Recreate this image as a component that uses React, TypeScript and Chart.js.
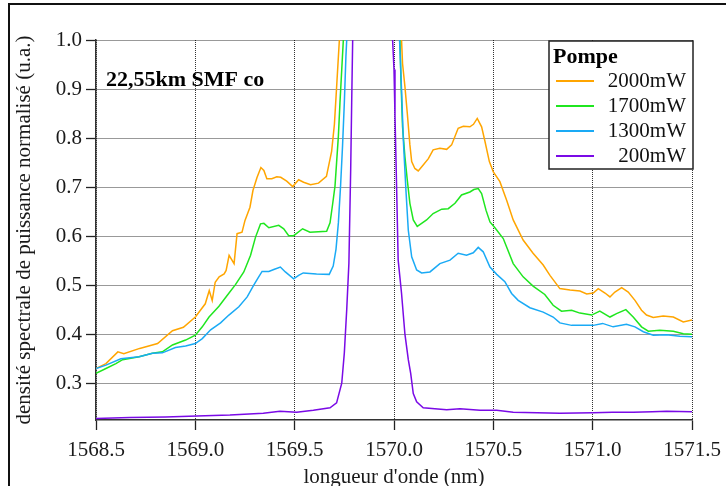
import React, { useEffect, useRef } from 'react';
import { Chart, registerables } from 'chart.js';

Chart.register(...registerables);

// ---------- data ----------
const seriesLabels = ['2000mW', '1700mW', '1300mW', '200mW'];
const seriesColors = ['#FFA500', '#1FE61F', '#1AAAF5', '#7A0AE6'];
const xTicks = [1568.5, 1569.0, 1569.5, 1570.0, 1570.5, 1571.0, 1571.5];
const yTicks = [0.3, 0.4, 0.5, 0.6, 0.7, 0.8, 0.9, 1.0];
const xTitle = "longueur d'onde (nm)";
const yTitle = 'densité spectrale de puissance normalisé (u.a.)';
const annotationText = '22,55km SMF co';
const legendTitle = 'Pompe';

const wl2000 = [1568.5, 1568.55, 1568.61, 1568.64, 1568.72, 1568.81, 1568.885, 1568.94, 1569.0, 1569.05, 1569.07, 1569.085, 1569.1, 1569.12, 1569.145, 1569.155, 1569.17, 1569.195, 1569.21, 1569.235, 1569.25, 1569.275, 1569.29, 1569.31, 1569.33, 1569.345, 1569.36, 1569.385, 1569.41, 1569.43, 1569.46, 1569.49, 1569.52, 1569.545, 1569.58, 1569.62, 1569.66, 1569.686, 1569.7, 1569.711, 1569.725, 1569.75, 1569.88, 1570.02, 1570.038, 1570.043, 1570.055, 1570.067, 1570.08, 1570.089, 1570.105, 1570.122, 1570.147, 1570.173, 1570.197, 1570.231, 1570.265, 1570.29, 1570.323, 1570.349, 1570.382, 1570.4, 1570.419, 1570.441, 1570.458, 1570.48, 1570.5, 1570.533, 1570.567, 1570.6, 1570.65, 1570.7, 1570.751, 1570.785, 1570.835, 1570.886, 1570.936, 1570.97, 1571.003, 1571.028, 1571.062, 1571.087, 1571.112, 1571.146, 1571.179, 1571.213, 1571.246, 1571.271, 1571.305, 1571.355, 1571.406, 1571.456, 1571.5];
const p2000 = [0.33, 0.34, 0.364, 0.36, 0.371, 0.381, 0.407, 0.414, 0.435, 0.462, 0.489, 0.469, 0.506, 0.517, 0.523, 0.53, 0.561, 0.544, 0.605, 0.608, 0.632, 0.659, 0.693, 0.719, 0.74, 0.734, 0.717, 0.717, 0.721, 0.72, 0.712, 0.701, 0.715, 0.71, 0.705, 0.708, 0.722, 0.773, 0.828, 0.903, 1.0, 1.3, 1.6, 1.2, 1.0, 0.952, 0.905, 0.85, 0.786, 0.752, 0.738, 0.733, 0.745, 0.758, 0.776, 0.779, 0.777, 0.786, 0.82, 0.824, 0.823, 0.828, 0.84, 0.823, 0.793, 0.752, 0.731, 0.711, 0.673, 0.633, 0.592, 0.565, 0.541, 0.52, 0.493, 0.49, 0.488, 0.482, 0.484, 0.493, 0.484, 0.476, 0.486, 0.495, 0.486, 0.469, 0.449, 0.439, 0.434, 0.437, 0.435, 0.425, 0.429];

const wl1700 = [1568.5, 1568.55, 1568.6, 1568.634, 1568.717, 1568.784, 1568.834, 1568.885, 1568.951, 1569.0, 1569.035, 1569.069, 1569.119, 1569.16, 1569.202, 1569.244, 1569.278, 1569.303, 1569.328, 1569.345, 1569.37, 1569.42, 1569.445, 1569.47, 1569.495, 1569.54, 1569.577, 1569.661, 1569.678, 1569.691, 1569.703, 1569.711, 1569.72, 1569.728, 1569.737, 1569.745, 1569.77, 1569.88, 1570.01, 1570.03, 1570.035, 1570.043, 1570.055, 1570.067, 1570.08, 1570.097, 1570.117, 1570.139, 1570.164, 1570.197, 1570.24, 1570.273, 1570.307, 1570.34, 1570.382, 1570.402, 1570.424, 1570.441, 1570.463, 1570.483, 1570.508, 1570.55, 1570.6, 1570.65, 1570.7, 1570.759, 1570.801, 1570.843, 1570.894, 1570.936, 1570.995, 1571.036, 1571.087, 1571.12, 1571.167, 1571.204, 1571.246, 1571.28, 1571.338, 1571.406, 1571.456, 1571.5];
const p1700 = [0.32, 0.33, 0.34, 0.348, 0.354, 0.361, 0.364, 0.378, 0.388, 0.398, 0.415, 0.435, 0.457, 0.479, 0.501, 0.527, 0.561, 0.598, 0.625, 0.626, 0.617, 0.622, 0.615, 0.601, 0.601, 0.615, 0.608, 0.61, 0.627, 0.665, 0.702, 0.75, 0.804, 0.872, 0.94, 1.0, 1.3, 1.7, 1.25, 1.0, 0.918, 0.823, 0.762, 0.714, 0.667, 0.633, 0.62, 0.626, 0.633, 0.646, 0.655, 0.656, 0.667, 0.684, 0.69, 0.695, 0.697, 0.687, 0.653, 0.629, 0.617, 0.595, 0.544, 0.517, 0.498, 0.481, 0.459, 0.447, 0.449, 0.443, 0.439, 0.447, 0.435, 0.442, 0.45, 0.435, 0.415, 0.406, 0.408, 0.406, 0.401, 0.4];

const wl1300 = [1568.5, 1568.55, 1568.625, 1568.717, 1568.784, 1568.834, 1568.9, 1568.951, 1569.0, 1569.035, 1569.077, 1569.127, 1569.169, 1569.219, 1569.261, 1569.294, 1569.319, 1569.336, 1569.37, 1569.395, 1569.428, 1569.453, 1569.495, 1569.52, 1569.543, 1569.61, 1569.674, 1569.694, 1569.708, 1569.72, 1569.731, 1569.741, 1569.75, 1569.758, 1569.762, 1569.79, 1569.9, 1570.01, 1570.028, 1570.038, 1570.047, 1570.06, 1570.072, 1570.089, 1570.114, 1570.139, 1570.181, 1570.231, 1570.282, 1570.323, 1570.365, 1570.399, 1570.424, 1570.449, 1570.483, 1570.517, 1570.558, 1570.592, 1570.625, 1570.684, 1570.751, 1570.801, 1570.835, 1570.894, 1570.953, 1571.003, 1571.05, 1571.103, 1571.17, 1571.213, 1571.255, 1571.305, 1571.372, 1571.439, 1571.5];
const p1300 = [0.33, 0.337, 0.35, 0.354, 0.361, 0.362, 0.373, 0.376, 0.381, 0.391, 0.409, 0.423, 0.439, 0.456, 0.476, 0.5, 0.517, 0.528, 0.528, 0.532, 0.537, 0.527, 0.513, 0.52, 0.525, 0.523, 0.522, 0.539, 0.573, 0.627, 0.702, 0.784, 0.872, 0.967, 1.0, 1.3, 1.7, 1.3, 1.0, 0.898, 0.796, 0.694, 0.612, 0.558, 0.531, 0.525, 0.527, 0.544, 0.551, 0.565, 0.561, 0.566, 0.577, 0.568, 0.537, 0.522, 0.507, 0.483, 0.469, 0.454, 0.445, 0.435, 0.423, 0.418, 0.418, 0.418, 0.422, 0.415, 0.42, 0.415, 0.405, 0.398, 0.399, 0.396, 0.395];

const wl200 = [1568.5, 1568.671, 1568.85, 1569.007, 1569.174, 1569.342, 1569.426, 1569.51, 1569.594, 1569.678, 1569.711, 1569.737, 1569.75, 1569.762, 1569.773, 1569.782, 1569.787, 1569.792, 1569.82, 1569.9, 1569.97, 1569.993, 1570.0, 1570.005, 1570.013, 1570.021, 1570.038, 1570.055, 1570.072, 1570.084, 1570.097, 1570.114, 1570.147, 1570.265, 1570.332, 1570.433, 1570.517, 1570.6, 1570.72, 1570.835, 1571.003, 1571.1, 1571.204, 1571.3, 1571.372, 1571.5];
const p200 = [0.228, 0.23, 0.231, 0.233, 0.235, 0.239, 0.243, 0.241, 0.245, 0.25, 0.26, 0.3, 0.362, 0.45, 0.545, 0.736, 0.872, 1.0, 1.4, 1.9, 1.4, 1.0, 0.94, 0.845, 0.702, 0.551, 0.483, 0.4, 0.348, 0.32, 0.279, 0.262, 0.25, 0.246, 0.248, 0.245, 0.245, 0.241, 0.24, 0.239, 0.24, 0.241, 0.241, 0.242, 0.243, 0.242];

const seriesX = [wl2000, wl1700, wl1300, wl200];
const seriesY = [p2000, p1700, p1300, p200];

const FONT = "'Liberation Serif', 'Times New Roman', serif";

const overlayPlugin = {
  id: 'overlay',
  afterDraw(chart: any) {
    const { ctx, chartArea } = chart;
    const xs = chart.scales.x;
    const ys = chart.scales.y;
    ctx.save();
    // outer frame
    ctx.strokeStyle = '#111';
    ctx.lineWidth = 2;
    ctx.strokeRect(9, 4, 1000, 1000);

    // annotation
    ctx.fillStyle = '#000';
    ctx.font = `bold 22px ${FONT}`;
    ctx.textAlign = 'left';
    ctx.textBaseline = 'middle';
    ctx.fillText(annotationText, xs.getPixelForValue(1568.55), ys.getPixelForValue(0.918));

    // legend box
    const bx = chartArea.right - 143;
    const by = chartArea.top + 1;
    const bw = 144;
    const bh = 128;
    ctx.fillStyle = '#fff';
    ctx.fillRect(bx, by, bw, bh);
    ctx.strokeStyle = '#222';
    ctx.lineWidth = 1.5;
    ctx.strokeRect(bx, by, bw, bh);
    ctx.fillStyle = '#000';
    ctx.font = `bold 22px ${FONT}`;
    ctx.textAlign = 'left';
    ctx.fillText(legendTitle, bx + 4, by + 16);
    ctx.font = `21px ${FONT}`;
    ctx.textAlign = 'right';
    chart.data.datasets.forEach((ds: any, i: number) => {
      const cy = by + 40 + i * 25;
      ctx.strokeStyle = ds.borderColor;
      ctx.lineWidth = 2;
      ctx.beginPath();
      ctx.moveTo(bx + 7, cy);
      ctx.lineTo(bx + 45, cy);
      ctx.stroke();
      ctx.fillStyle = '#111';
      ctx.fillText(ds.label, bx + bw - 7, cy);
    });
    ctx.restore();
  },
};

export default function App() {
  const ref = useRef<HTMLCanvasElement | null>(null);
  useEffect(() => {
    if (!ref.current) return;
    const datasets = seriesLabels.map((label, i) => ({
      label,
      data: seriesX[i].map((x, j) => ({ x, y: seriesY[i][j] })),
      borderColor: seriesColors[i],
      backgroundColor: seriesColors[i],
      borderWidth: 1.5,
      pointRadius: 0,
      tension: 0,
      fill: false,
      order: 4 - i,
    }));
    const chart = new Chart(ref.current, {
      type: 'line',
      data: { datasets },
      plugins: [overlayPlugin],
      options: {
        animation: false,
        responsive: false,
        events: [],
        layout: { padding: { left: 0, top: 40, right: 34, bottom: 0 } },
        plugins: { legend: { display: false }, tooltip: { enabled: false } },
        scales: {
          x: {
            type: 'linear',
            min: 1568.5,
            max: 1571.5,
            afterBuildTicks: (s: any) => {
              s.ticks = xTicks.map((v) => ({ value: v }));
            },
            afterFit: (s: any) => {
              s.height = 66;
              s.paddingLeft = 0;
              s.paddingRight = 0;
            },
            ticks: {
              callback: (v: any) => Number(v).toFixed(1),
              font: { family: FONT, size: 21 },
              color: '#1a1a1a',
              padding: 8,
              maxRotation: 0,
              autoSkip: false,
            },
            grid: {
              color: 'rgba(0,0,0,0.8)',
              lineWidth: 1,
              tickLength: 10,
              tickColor: '#222',
              tickWidth: 1.3,
              tickBorderDash: [],
            },
            border: { display: true, color: '#333', width: 1.5, dash: [1, 1] },
            title: {
              display: true,
              text: xTitle,
              font: { family: FONT, size: 21 },
              color: '#1a1a1a',
              padding: { top: 0, bottom: -4 },
            },
          },
          y: {
            type: 'linear',
            min: 0.225,
            max: 1.0,
            afterBuildTicks: (s: any) => {
              s.ticks = yTicks.map((v) => ({ value: v }));
            },
            afterFit: (s: any) => {
              s.width = 96;
              s.paddingTop = 0;
              s.paddingBottom = 0;
            },
            ticks: {
              callback: (v: any) => Number(v).toFixed(1),
              font: { family: FONT, size: 21 },
              color: '#1a1a1a',
              padding: 4,
              autoSkip: false,
            },
            grid: {
              color: 'rgba(0,0,0,0.8)',
              lineWidth: 1,
              tickLength: 10,
              tickColor: '#222',
              tickWidth: 1.3,
              tickBorderDash: [],
            },
            border: { display: true, color: '#333', width: 1.5, dash: [1, 1] },
            title: {
              display: true,
              text: yTitle,
              font: { family: FONT, size: 21 },
              color: '#1a1a1a',
              padding: { top: 12, bottom: 0 },
            },
          },
        },
      },
    } as any);
    return () => chart.destroy();
  }, []);
  return (
    <div style={{ position: 'fixed', left: 0, top: 0, width: 726, height: 486, background: '#fff' }}>
      <canvas ref={ref} width={726} height={486} style={{ display: 'block' }} />
    </div>
  );
}
